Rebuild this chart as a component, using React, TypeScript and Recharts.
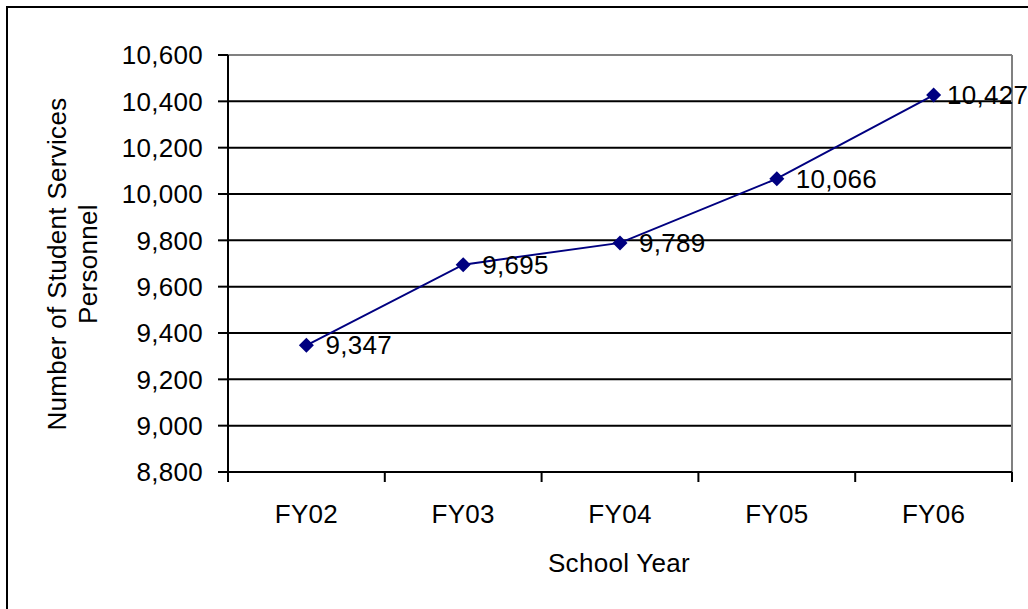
import React from 'react';
import { LineChart, Line, XAxis, YAxis, CartesianGrid, ReferenceLine, LabelList } from 'recharts';

const categories = ['FY02', 'FY03', 'FY04', 'FY05', 'FY06'];
const personnel = [9347, 9695, 9789, 10066, 10427];
const yTicks = [8800, 9000, 9200, 9400, 9600, 9800, 10000, 10200, 10400, 10600];
const xTicks = [0, 0.5, 1, 1.5, 2, 2.5, 3, 3.5, 4, 4.5, 5];

const data = categories.map((c, i) => ({ x: i + 0.5, value: personnel[i], name: c }));

const W = 1020;
const H = 601;
const FONT = 'Liberation Sans, Arial, sans-serif';
const FS = 26;
const LS = 0.3;

const fmt = (v: number) => v.toLocaleString('en-US');

const XTick = (props: any) => {
  const { x, y, payload } = props;
  const v = payload.value as number;
  if (Number.isInteger(v)) {
    return <line x1={x} y1={y} x2={x} y2={y + 10} stroke="#000" strokeWidth={2} />;
  }
  const idx = Math.floor(v);
  return (
    <text x={x} y={y + 51} textAnchor="middle" fontFamily={FONT} fontSize={FS} letterSpacing={LS} fill="#000">
      {categories[idx]}
    </text>
  );
};

const Diamond = (props: any) => {
  const { cx, cy } = props;
  if (cx == null || cy == null) return null;
  const r = 7.5;
  return <polygon points={`${cx},${cy - r} ${cx + r},${cy} ${cx},${cy + r} ${cx - r},${cy}`} fill="#000080" />;
};

const ValueLabel = (props: any) => {
  const { x, y, value } = props;
  const tx = Math.min(x + 19, W - 81);
  return (
    <text x={tx} y={y + 9} fontFamily={FONT} fontSize={FS} letterSpacing={LS} fill="#000">
      {fmt(value)}
    </text>
  );
};

const YTitle = () => (
  <g>
    <text transform="translate(58,256) rotate(-90)" textAnchor="middle" fontFamily={FONT} fontSize={FS} letterSpacing={LS} fill="#000">
      Number of Student Services
    </text>
    <text transform="translate(89,256) rotate(-90)" textAnchor="middle" fontFamily={FONT} fontSize={FS} letterSpacing={LS} fill="#000">
      Personnel
    </text>
  </g>
);

const XTitle = () => (
  <text x={611} y={564} textAnchor="middle" fontFamily={FONT} fontSize={FS} letterSpacing={LS} fill="#000">
    School Year
  </text>
);

export default function App() {
  return (
    <div
      style={{
        position: 'fixed',
        left: 6,
        top: 6,
        width: W + 2,
        height: H + 2,
        borderLeft: '2px solid #000',
        borderTop: '2px solid #000',
        boxSizing: 'border-box',
        background: '#fff',
        overflow: 'hidden',
      }}
    >
      <LineChart width={W} height={H} data={data} margin={{ top: 47, right: 16, left: 0, bottom: 37 }}>
        <CartesianGrid vertical={false} stroke="#000" strokeWidth={2} />
        <XAxis
          dataKey="x"
          type="number"
          domain={[0, 5]}
          ticks={xTicks}
          interval={0}
          height={100}
          tickSize={0}
          tickMargin={0}
          tickLine={false}
          axisLine={{ stroke: '#000', strokeWidth: 2 }}
          tick={<XTick />}
          label={{ content: () => <XTitle /> }}
        />
        <YAxis
          type="number"
          domain={[8800, 10600]}
          ticks={yTicks}
          interval={0}
          width={220}
          tickSize={10}
          tickMargin={15}
          tickFormatter={fmt}
          tickLine={{ stroke: '#000', strokeWidth: 2 }}
          axisLine={{ stroke: '#000', strokeWidth: 2 }}
          tick={{ fill: '#000', fontFamily: FONT, fontSize: FS, letterSpacing: LS }}
          label={{ content: () => <YTitle /> }}
        />
        <ReferenceLine y={10600} stroke="#808080" strokeWidth={2} />
        <ReferenceLine x={5} stroke="#808080" strokeWidth={2} />
        <Line
          dataKey="value"
          stroke="#000080"
          strokeWidth={2}
          dot={<Diamond />}
          activeDot={false}
          isAnimationActive={false}
        >
          <LabelList dataKey="value" content={<ValueLabel />} />
        </Line>
      </LineChart>
    </div>
  );
}
